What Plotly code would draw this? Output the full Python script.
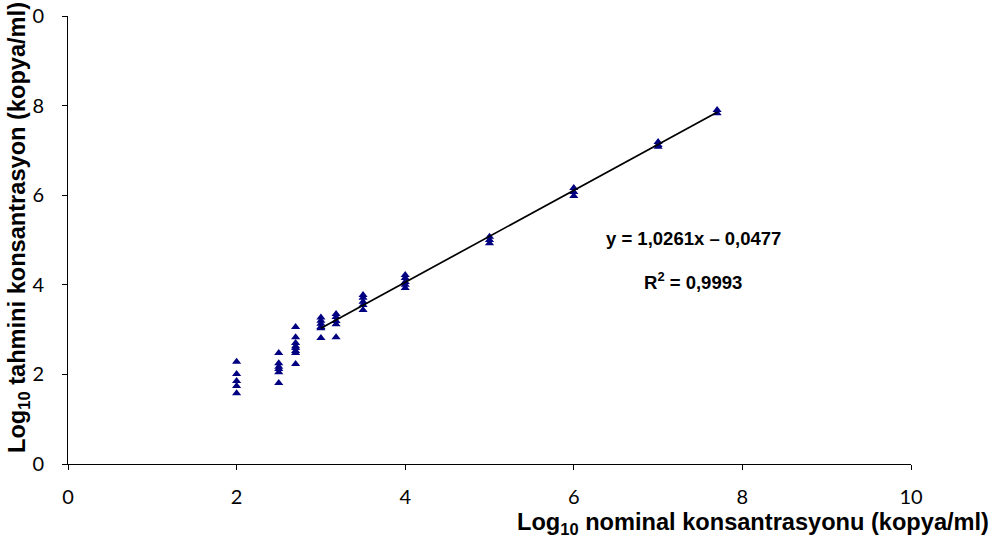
import plotly.graph_objects as go

# Data
x_groups = [2.0, 2.5, 2.7, 3.0, 3.18, 3.5, 4.0, 5.0, 6.0, 7.0, 7.7]
y_groups = [
    [2.28, 2.01, 1.85, 1.74, 1.58],
    [2.48, 2.25, 2.17, 2.12, 2.05, 1.81],
    [3.06, 2.83, 2.70, 2.63, 2.59, 2.52, 2.48, 2.23],
    [3.27, 3.20, 3.13, 3.06, 3.03, 2.81],
    [3.35, 3.28, 3.19, 3.12, 2.83],
    [3.77, 3.71, 3.62, 3.55, 3.44],
    [4.22, 4.15, 4.06, 4.00, 3.93],
    [5.07, 5.00, 4.93],
    [6.16, 6.07, 5.98],
    [7.19, 7.12, 7.08],
    [7.90, 7.83],
]
slope = 1.0261
intercept = -0.0477
fit_range = [3.0, 7.7]
x_ticks = [0, 2, 4, 6, 8, 10]
x_ticktext = ["0", "2", "4", "6", "8", "10"]
y_ticks = [0, 2, 4, 6, 8, 10]
y_ticktext = ["0", "2", "4", "6", "8", "0"]

xs, ys = [], []
for xv, yl in zip(x_groups, y_groups):
    for yv in yl:
        xs.append(xv)
        ys.append(yv)

fig = go.Figure()
fig.add_trace(go.Scatter(
    x=xs, y=ys, mode="markers",
    marker=dict(symbol="triangle-up", size=8, color="#000080",
                line=dict(width=0)),
    showlegend=False, hoverinfo="skip"))
fig.add_trace(go.Scatter(
    x=fit_range, y=[slope * v + intercept for v in fit_range],
    mode="lines", line=dict(color="black", width=1.7),
    showlegend=False, hoverinfo="skip"))

tick_font = dict(family="Lato, DejaVu Sans, sans-serif", size=20, color="black")
fig.update_xaxes(range=[0, 10], tickvals=x_ticks, ticktext=x_ticktext,
                 showline=True, linecolor="black", linewidth=1,
                 ticks="outside", ticklen=5, tickcolor="black",
                 showgrid=False, zeroline=False, tickfont=tick_font,
                 ticklabelstandoff=10, automargin=False)
fig.update_yaxes(range=[0, 10], tickvals=y_ticks, ticktext=y_ticktext,
                 showline=True, linecolor="black", linewidth=1,
                 ticks="outside", ticklen=5, tickcolor="black",
                 showgrid=False, zeroline=False, tickfont=tick_font,
                 ticklabelstandoff=14, automargin=False)

title_font = dict(family="Arial, Liberation Sans, sans-serif", size=23.6, color="black")
ann_font = dict(family="Arial, Liberation Sans, sans-serif", size=18.5, color="black")
fig.update_layout(
    width=995, height=543,
    margin=dict(l=68, r=84, t=16, b=79, autoexpand=False),
    plot_bgcolor="white", paper_bgcolor="white",
    annotations=[
        dict(text="<b>Log<sub>10</sub> nominal konsantrasyonu (kopya/ml)</b>",
             xref="paper", yref="paper", x=(991 - 68) / 843, y=(464 - 524) / 448,
             xanchor="right", yanchor="middle", showarrow=False, font=title_font),
        dict(text="<b>Log<sub>10</sub> tahmini konsantrasyon (kopya/ml)</b>",
             xref="paper", yref="paper", x=(19 - 68) / 843, y=(464 - 228) / 448,
             textangle=-90,
             xanchor="center", yanchor="middle", showarrow=False, font=title_font),
        dict(text="<b>y = 1,0261x – 0,0477</b>",
             xref="paper", yref="paper", x=(693 - 68) / 843, y=(464 - 239) / 448,
             xanchor="center", yanchor="middle", showarrow=False, font=ann_font),
        dict(text="<b>R<sup>2</sup> = 0,9993</b>",
             xref="paper", yref="paper", x=(693 - 68) / 843, y=(464 - 281) / 448,
             xanchor="center", yanchor="middle", showarrow=False, font=ann_font),
    ],
)

fig.write_html("out.html")
